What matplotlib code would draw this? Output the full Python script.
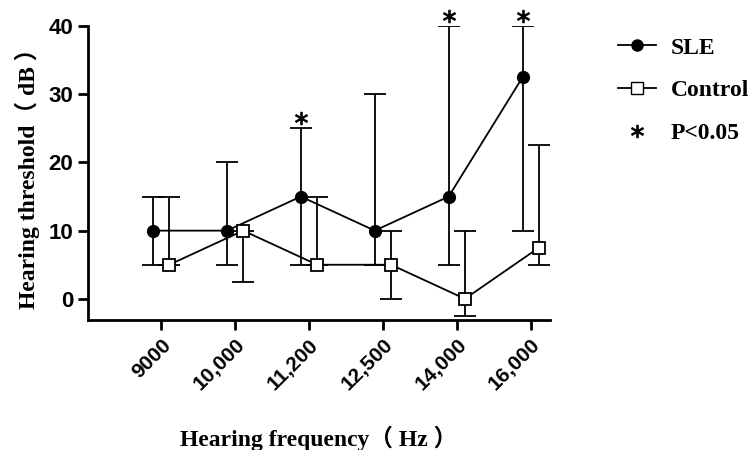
import numpy as np
import matplotlib
matplotlib.use("Agg")
import matplotlib.pyplot as plt
import matplotlib.transforms as mtransforms
from matplotlib.lines import Line2D

# data
freqs = ["9000", "10,000", "11,200", "12,500", "14,000", "16,000"]
sle_mean = [10, 10, 15, 10, 15, 32.5]
sle_low = [5, 5, 5, 5, 5, 10]
sle_high = [15, 20, 25, 30, 40, 40]
ctl_mean = [5, 10, 5, 5, 0, 7.5]
ctl_low = [5, 2.5, 5, 0, -2.5, 5]
ctl_high = [15, 10, 15, 10, 10, 22.5]
signif = [False, False, True, False, True, True]

serif = ["Liberation Serif", "Noto Sans CJK SC"]
sans = "Liberation Sans"

fig = plt.figure(figsize=(7.56, 4.5), dpi=100)
ax = fig.add_axes([0.1164, 0.289, 0.611, 0.653])

x = np.arange(len(freqs))
off = 0.11
xs = x - off
xc = x + off

sm = np.array(sle_mean)
cm = np.array(ctl_mean)
ax.errorbar(xs, sm, yerr=[sm - np.array(sle_low), np.array(sle_high) - sm],
            fmt="-o", color="black", ms=8.5, lw=1.3, elinewidth=1.3,
            capsize=8, capthick=1.3, zorder=3)
ax.errorbar(xc, cm, yerr=[cm - np.array(ctl_low), np.array(ctl_high) - cm],
            fmt="-s", color="black", mfc="white", ms=8, mew=1.3, lw=1.3,
            elinewidth=1.3, capsize=8, capthick=1.3, zorder=3)

# significance stars above the SLE bars
sx = [xs[i] for i in range(len(freqs)) if signif[i]]
sy = [sle_high[i] + 1.5 for i in range(len(freqs)) if signif[i]]
ax.plot(sx, sy, ls="none", marker="$*$", ms=9, mew=0.7, color="black",
        clip_on=False)

ax.set_xlim(-0.99, 5.26)
ax.set_ylim(-3.1, 40)
ax.set_yticks([0, 10, 20, 30, 40])
ax.set_xticks(x)
ax.set_xticklabels(freqs, rotation=45, ha="right", rotation_mode="anchor",
                   fontsize=15, fontweight="bold", fontfamily=sans)
shift = mtransforms.ScaledTranslation(-5 / 72, 0, fig.dpi_scale_trans)
for lab in ax.get_xticklabels():
    lab.set_transform(lab.get_transform() + shift)
for lab in ax.get_yticklabels():
    lab.set_fontsize(16)
    lab.set_fontweight("bold")
    lab.set_fontfamily(sans)

for s in ["top", "right"]:
    ax.spines[s].set_visible(False)
for s in ["left", "bottom"]:
    ax.spines[s].set_linewidth(2)
ax.tick_params(axis="both", width=2, length=7, direction="out")
ax.tick_params(axis="x", pad=4)

ax.set_xlabel("Hearing frequency（ Hz ）", fontsize=17, fontweight="bold",
              family=serif)
ax.xaxis.set_label_coords(0.5, -0.36)
ax.set_ylabel("Hearing threshold（ dB ）", fontsize=17, fontweight="bold",
              family=serif, labelpad=6)

handles = [
    Line2D([], [], color="black", marker="o", ms=8, lw=1.3),
    Line2D([], [], color="black", marker="s", mfc="white", ms=8, lw=1.3),
    Line2D([], [], color="black", marker="$*$", ms=9, mew=0.7, lw=0),
]
fig.legend(handles, ["SLE", "Control", "P<0.05"], loc="upper left",
           bbox_to_anchor=(0.79, 0.965), frameon=False, handlelength=1.6,
           handletextpad=0.6, labelspacing=0.9,
           prop={"family": "Liberation Serif", "weight": "bold", "size": 17})

fig.savefig("out.png", dpi=100)
